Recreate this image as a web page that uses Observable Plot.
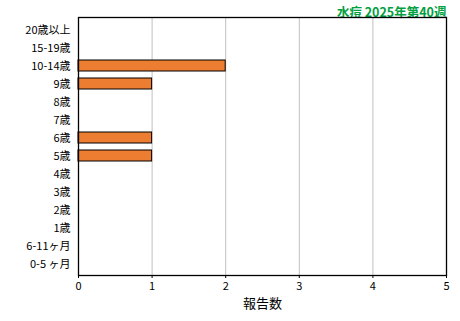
<!DOCTYPE html>
<html><head><meta charset="utf-8">
<script src="https://cdn.jsdelivr.net/npm/d3@7"></script>
<script src="https://cdn.jsdelivr.net/npm/@observablehq/plot@0.6"></script>
<style>
body{margin:0;background:#fff;}
#wrap{position:relative;width:460px;height:321px;font-family:"Noto Sans CJK JP",sans-serif;}
</style></head>
<body><div id="wrap"></div>
<script>
const title = "水痘 2025年第40週";
const categories = ["20歳以上","15-19歳","10-14歳","9歳","8歳","7歳","6歳","5歳","4歳","3歳","2歳","1歳","6-11ヶ月","0-5 ヶ月"];
const counts = [0,0,2,1,0,0,1,1,0,0,0,0,0,0];
const xTicks = [0,1,2,3,4,5];
const xLabel = "報告数";
const data = categories.map((c,i)=>({cat:c, n:counts[i]}));
const chart = Plot.plot({
  width:460, height:321,
  marginTop:17, marginBottom:46, marginLeft:78, marginRight:14,
  style:{fontFamily:'"Noto Sans CJK JP",sans-serif', fontSize:"11px", color:"#000", background:"#fff"},
  x:{domain:[0,5], ticks:xTicks, label:null},
  y:{domain:categories, label:null, paddingInner:0.4, paddingOuter:0.2},
  marks:[
    Plot.gridX(xTicks, {stroke:"#c0c0c0", strokeOpacity:1}),
    Plot.barX(data.filter(d=>d.n>0), {x:"n", y:"cat", fill:"#ED7D31", stroke:"#000", strokeWidth:1}),
    Plot.axisY({tickSize:0, tickPadding:8, fontSize:11, label:null}),
    Plot.axisX({ticks:xTicks, tickFormat:"d", tickSize:3, tickPadding:4, fontSize:11, label:null}),
    Plot.text([xLabel], {frameAnchor:"bottom", dy:32, fontSize:13, text:d=>d}),
    Plot.text([title], {frameAnchor:"top-right", textAnchor:"end", dy:-9, fontSize:12.5, fontWeight:"bold", fill:"#00a040", text:d=>d}),
    Plot.frame({stroke:"#000", strokeWidth:1.3})
  ]
});
document.getElementById("wrap").appendChild(chart);
</script></body></html>
